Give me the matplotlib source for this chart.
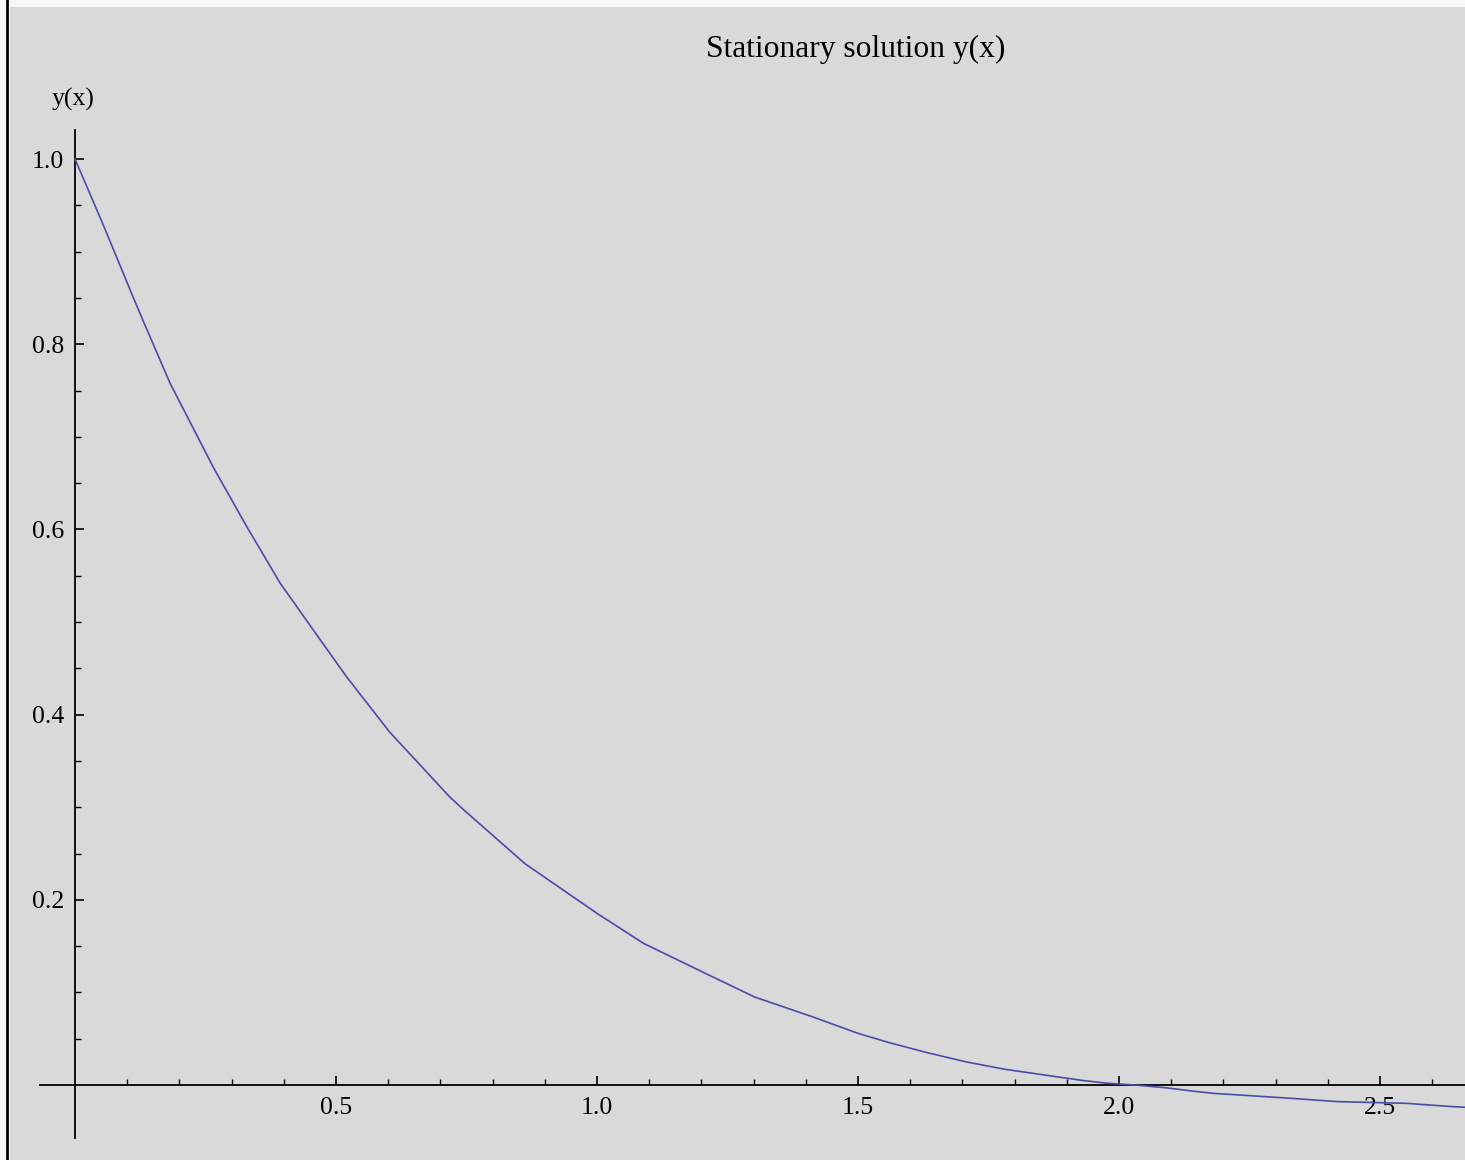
import numpy as np
import matplotlib.pyplot as plt
from matplotlib.ticker import FixedLocator, FormatStrFormatter
from matplotlib.lines import Line2D

plt.rcParams['font.family'] = ['Liberation Serif', 'DejaVu Serif']

# точки кривой
x = [0.0, 0.054, 0.112, 0.13, 0.182, 0.265, 0.329, 0.393, 0.457, 0.52,
     0.603, 0.718, 0.745, 0.862, 1.001, 1.089, 1.206, 1.302, 1.411, 1.499,
     1.558, 1.632, 1.707, 1.781, 1.855, 1.929, 1.975, 2.03, 2.09, 2.14,
     2.18, 2.25, 2.33, 2.42, 2.55, 2.64, 2.7]
y = [1.0, 0.929, 0.85, 0.826, 0.758, 0.667, 0.603, 0.542, 0.491, 0.441,
     0.381, 0.311, 0.297, 0.239, 0.185, 0.153, 0.121, 0.095, 0.074, 0.056,
     0.046, 0.035, 0.025, 0.017, 0.011, 0.005, 0.002, 0.0, -0.003, -0.0065,
     -0.009, -0.0115, -0.0144, -0.018, -0.0198, -0.0234, -0.025]

x_ticks = [0.5, 1.0, 1.5, 2.0, 2.5]
y_ticks = [0.2, 0.4, 0.6, 0.8, 1.0]

W, H = 1465, 1160
fig = plt.figure(figsize=(W / 100, H / 100), dpi=100)
fig.patch.set_facecolor('#f7f7f7')

ax = fig.add_axes([10 / W, 0, 1 - 10 / W, 1 - 7 / H])
ax.set_facecolor('#d9d9d9')
ax.set_xlim((10 - 75) / 522, (W - 75) / 522)
ax.set_ylim((1085 - H) / 926, (1085 - 7) / 926)

ax.plot(x, y, color='#4b4ba8', lw=1.2, zorder=5)

for s in ['top', 'right']:
    ax.spines[s].set_visible(False)
ax.spines['left'].set_position(('data', 0))
ax.spines['bottom'].set_position(('data', 0))
ax.spines['left'].set_bounds(-0.057, 1.031)
ax.spines['bottom'].set_bounds(-0.067, 2.8)
ax.spines['left'].set_linewidth(1.3)
ax.spines['bottom'].set_linewidth(1.3)

ax.xaxis.set_major_locator(FixedLocator(x_ticks))
ax.yaxis.set_major_locator(FixedLocator(y_ticks))
ax.xaxis.set_minor_locator(FixedLocator(np.arange(0.1, 2.75, 0.1)))
ax.yaxis.set_minor_locator(FixedLocator(np.arange(0.05, 1.01, 0.05)))
ax.xaxis.set_major_formatter(FormatStrFormatter('%.1f'))
ax.yaxis.set_major_formatter(FormatStrFormatter('%.1f'))
ax.tick_params(which='major', direction='in', length=6.5, width=1.2, labelsize=18.5)
ax.tick_params(which='minor', direction='in', length=4, width=1.0)
ax.tick_params(axis='x', which='major', pad=9)
ax.tick_params(axis='y', which='major', pad=8)

fig.text(856 / W, 1 - 49 / H, 'Stationary solution y(x)', ha='center', va='center', fontsize=22.7)
fig.text(73 / W, 1 - 99 / H, 'y(x)', ha='center', va='center', fontsize=18.5)

fig.add_artist(Line2D([7 / W, 7 / W], [0, 1], color='black', lw=2))

plt.savefig('out.png', dpi=100, facecolor=fig.get_facecolor())
